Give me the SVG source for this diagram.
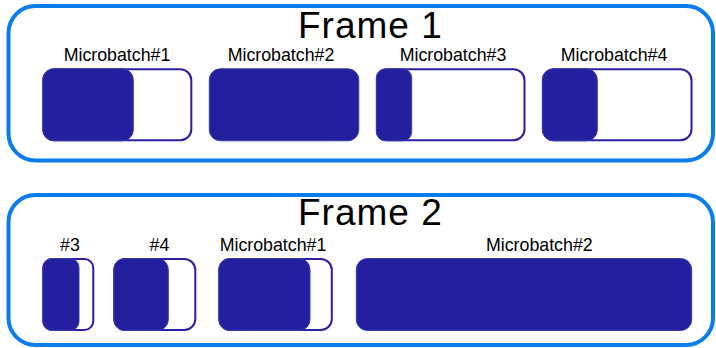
<svg xmlns="http://www.w3.org/2000/svg" width="716" height="348" viewBox="0 0 716 348">
<style>
.frame{fill:#fff;stroke:#0B7DEA;stroke-width:4}
.title{font-family:"Liberation Sans",Arial,sans-serif;font-size:37px;letter-spacing:1px;fill:#000}
.lbl{font-family:"Liberation Sans",Arial,sans-serif;font-size:17.8px;fill:#000;text-anchor:middle}
.out{fill:#fff;stroke:#2A1FA3;stroke-width:2}
.fill{fill:#231F9F;stroke:#3E3CA8;stroke-width:1}
</style>
<rect width="716" height="348" fill="#fff"/>
<g id="frame1">
<rect class="frame" x="8.5" y="6" width="704.5" height="154.5" rx="27"/>
<text class="title" x="298" y="38">Frame 1</text>
</g>
<g id="frame2">
<rect class="frame" x="8.5" y="195" width="704.5" height="150" rx="27"/>
<text class="title" x="298" y="224.5">Frame 2</text>
</g>
<g id="f1-mb1">
<text class="lbl" x="117" y="61">Microbatch#1</text>
<rect class="out" x="43.3" y="69.3" width="148" height="71" rx="11"/>
<rect class="fill" x="42.8" y="68.8" width="90.5" height="72" rx="11"/>
</g>
<g id="f1-mb2">
<text class="lbl" x="281" y="61">Microbatch#2</text>
<rect class="fill" x="209.3" y="68.8" width="149.5" height="72" rx="11"/>
</g>
<g id="f1-mb3">
<text class="lbl" x="453" y="61">Microbatch#3</text>
<rect class="out" x="377" y="69.3" width="147.5" height="71" rx="11"/>
<rect class="fill" x="376.3" y="68.8" width="35.4" height="72" rx="9"/>
</g>
<g id="f1-mb4">
<text class="lbl" x="614" y="61">Microbatch#4</text>
<rect class="out" x="543" y="69.3" width="148.5" height="71" rx="11"/>
<rect class="fill" x="542.3" y="68.8" width="55" height="72" rx="11"/>
</g>
<g id="f2-mb3">
<text class="lbl" x="70" y="251.3">#3</text>
<rect class="out" x="43.3" y="259" width="50" height="71" rx="9"/>
<rect class="fill" x="42.8" y="258.5" width="36.2" height="72" rx="9"/>
</g>
<g id="f2-mb4">
<text class="lbl" x="159.5" y="251.3">#4</text>
<rect class="out" x="114.3" y="259" width="81" height="71" rx="11"/>
<rect class="fill" x="113.8" y="258.5" width="54.5" height="72" rx="11"/>
</g>
<g id="f2-mb1">
<text class="lbl" x="273" y="251.3">Microbatch#1</text>
<rect class="out" x="219.3" y="259" width="112.5" height="71" rx="11"/>
<rect class="fill" x="218.8" y="258.5" width="91.2" height="72" rx="11"/>
</g>
<g id="f2-mb2">
<text class="lbl" x="539.3" y="251.3">Microbatch#2</text>
<rect class="fill" x="356.3" y="258.5" width="335.4" height="72" rx="11"/>
</g>
<g id="connectors"/>
</svg>
